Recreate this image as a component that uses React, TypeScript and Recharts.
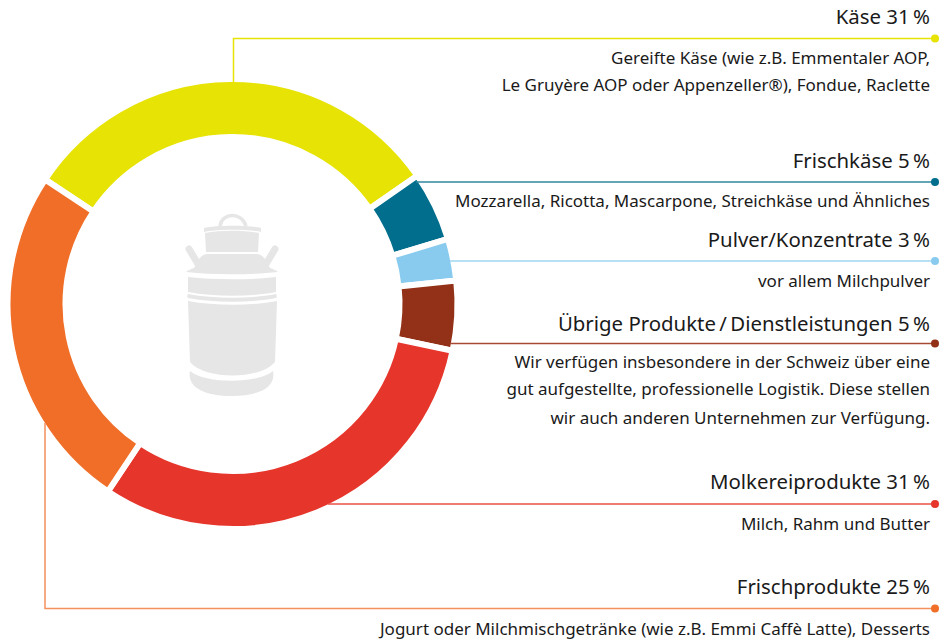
import { Pie, PieChart, Cell } from "recharts";

const categories = ["Käse", "Frischkäse", "Pulver/Konzentrate", "Übrige Produkte / Dienstleistungen", "Molkereiprodukte", "Frischprodukte"];
const shares = [31, 5, 3, 5, 31, 25];
const colors = ["#e6e305", "#006e8c", "#88cbee", "#933118", "#e6362b", "#f06e27"];
const lineColors = ["#e6e305", "#2f869f", "#a0d6f1", "#a64a34", "#ea5045", "#f3905c"];
const titles = ["Käse 31\u202f%", "Frischkäse 5\u202f%", "Pulver/Konzentrate 3\u202f%", "Übrige Produkte\u2009/\u2009Dienstleistungen 5\u202f%", "Molkereiprodukte 31\u202f%", "Frischprodukte 25\u202f%"];
const descriptions = [
  ["Gereifte Käse (wie z.B. Emmentaler AOP,", "Le Gruyère AOP oder Appenzeller®), Fondue, Raclette"],
  ["Mozzarella, Ricotta, Mascarpone, Streichkäse und Ähnliches"],
  ["vor allem Milchpulver"],
  ["Wir verfügen insbesondere in der Schweiz über eine", "gut aufgestellte, professionelle Logistik. Diese stellen", "wir auch anderen Unternehmen zur Verfügung."],
  ["Milch, Rahm und Butter"],
  ["Jogurt oder Milchmischgetränke (wie z.B. Emmi Caffè Latte), Desserts"],
];
const titleY = [24, 168, 247, 331, 489, 594];
const descY = [[64, 91], [207], [287], [368, 395, 424], [530], [635]];
const dotY = [38.5, 182, 261, 343.5, 504, 608.5];
const linePaths = [
  "M233.5 82V38.5H935",
  "M416 182H935",
  "M450 261H935",
  "M450 343.5H935",
  "M328 504H935",
  "M45 423V608.5H935",
];

const data = categories.map((name, i) => ({ name, value: shares[i] }));
const FONT = "'Noto Sans', sans-serif";

function MilkCan() {
  return (
    <g fill="#e6e6e6">
      <path d="M220 226C222 212 242 212 246 226" fill="none" stroke="#e6e6e6" strokeWidth={3.5} />
      <path d="M204 228C215 225 250 225 261 228L261 232C250 229 215 229 204 232Z" />
      <path d="M205 233C220 230 245 230 259 233L258 252H206Z" />
      <path d="M189 249L198 264M275 249L266 264" fill="none" stroke="#e6e6e6" strokeWidth={7} strokeLinecap="round" />
      <path d="M199 259C202 255 205 254 208 254H256C259 254 262 255 265 259L270 268C273 269 276 270 278 272C250 275 214 275 186 272C188 270 191 269 194 268Z" />
      <path d="M188 277C215 280 250 280 276 277V292C250 297 215 297 188 292Z" />
      <path d="M188 294C215 299 250 299 276 294C277 296 277 297 276 298C250 303 215 303 188 298C187 297 187 295 188 294Z" />
      <path d="M188 301C215 306 250 306 277 301L275 362C260 380 205 380 190 362Z" />
      <path d="M190 371C205 384 258 384 273 371C276 386 262 396 232 396C202 396 187 386 190 371Z" />
    </g>
  );
}

function Annotations() {
  return (
    <svg width={946} height={640} style={{ position: "absolute", left: 0, top: 0, pointerEvents: "none" }}>
      <MilkCan />
      {linePaths.map((d, i) => (
        <g key={categories[i]}>
          <path d={d} fill="none" stroke={lineColors[i]} strokeWidth={1.5} />
          <circle cx={935} cy={dotY[i]} r={4} fill={colors[i]} />
        </g>
      ))}
      {titles.map((t, i) => (
        <text key={t} x={930} y={titleY[i]} textAnchor="end" fontFamily={FONT} fontSize={20.4} fill="#1a1a1a">
          {t}
        </text>
      ))}
      {descriptions.map((lines, i) =>
        lines.map((l, j) => (
          <text key={l} x={930} y={descY[i][j]} textAnchor="end" fontFamily={FONT} fontSize={17} fill="#1a1a1a">
            {l}
          </text>
        )),
      )}
    </svg>
  );
}

export default function App() {
  return (
    <div style={{ position: "absolute", left: 0, top: 0, width: 946, height: 640, background: "#fff" }}>
      <PieChart width={946} height={640} margin={{ top: 0, right: 0, bottom: 0, left: 0 }}>
        <Pie
          data={data}
          dataKey="value"
          cx={232.5}
          cy={304}
          outerRadius={225}
          innerRadius={167}
          startAngle={146.4}
          endAngle={-213.6}
          stroke="#fff"
          strokeWidth={6}
          isAnimationActive={false}
        >
          {data.map((d, i) => (
            <Cell key={d.name} fill={colors[i]} />
          ))}
        </Pie>
      </PieChart>
      <Annotations />
    </div>
  );
}
